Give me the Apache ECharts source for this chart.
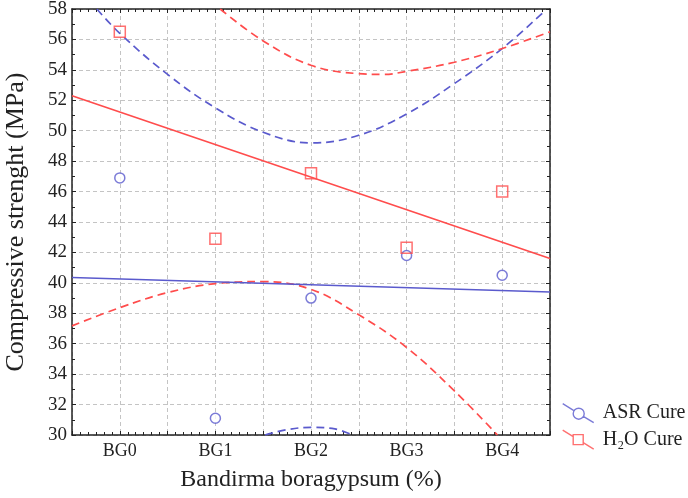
<!DOCTYPE html>
<html>
<head>
<meta charset="utf-8">
<script src="https://cdn.jsdelivr.net/npm/echarts@6/dist/echarts.min.js"></script>
<style>
html,body{margin:0;padding:0;background:#fff;}
#chart{width:688px;height:498px;}
</style>
</head>
<body>
<div id="chart"></div>
<script>
// ---- data ----
var categories = ['BG0', 'BG1', 'BG2', 'BG3', 'BG4'];
var categoryPos = [0, 1, 2, 3, 4];
var asrValues = [46.9, 31.1, 39.0, 41.8, 40.5];
var h2oValues = [56.5, 42.9, 47.2, 42.3, 46.0];

var fitX = [-0.5, 4.5];
var asrFitY = [40.35, 39.4];
var h2oFitY = [52.3, 41.6];

var asrUpperX = [-0.24, 0, 0.5, 1, 1.5, 2, 2.5, 3, 3.5, 4, 4.45];
var asrUpperY = [58, 56.4, 53.7, 51.5, 49.9, 49.2, 49.7, 51.1, 53.1, 55.4, 57.9];
var asrLowerX = [1.52, 1.75, 2, 2.25, 2.43];
var asrLowerY = [30.0, 30.35, 30.5, 30.4, 30.0];

var h2oUpperX = [1.05, 1.5, 2, 2.5, 2.75, 3, 3.5, 4, 4.5];
var h2oUpperY = [58, 55.9, 54.3, 53.75, 53.7, 53.9, 54.5, 55.4, 56.5];
var h2oLowerX = [-0.5, 0, 0.5, 1, 1.5, 2, 2.5, 3, 3.5, 3.95];
var h2oLowerY = [37.17, 38.37, 39.36, 39.95, 40.08, 39.57, 37.9, 35.75, 32.9, 30.0];

var yTicks = [30, 32, 34, 36, 38, 40, 42, 44, 46, 48, 50, 52, 54, 56, 58];

// ---- helpers ----
function zip(xs, ys) { return xs.map(function (x, i) { return [x, ys[i]]; }); }

var BLUE = '#5a5acd';
var RED = '#ff4c4c';
var FONT = 'Liberation Serif';
var DASH = [8, 5];

var chart = echarts.init(document.getElementById('chart'));

var gridLine = { show: true, lineStyle: { color: '#c4c4c4', type: [4, 3], width: 1 } };
var axisLine = { show: true, onZero: false, lineStyle: { color: '#222', width: 1.5 } };

var option = {
  animation: false,
  backgroundColor: '#fff',
  grid: { left: 72, right: 138, top: 9, bottom: 63, containLabel: false, outerBoundsMode: 'none' },
  xAxis: [{
    type: 'value',
    min: -0.5, max: 4.5, interval: 0.5,
    axisLine: axisLine,
    axisTick: { show: true, inside: true, length: 4, lineStyle: { color: '#222' } },
    minorTick: { show: true, splitNumber: 6, length: 3, lineStyle: { color: '#222' } },
    splitLine: gridLine,
    axisLabel: {
      color: '#222', fontFamily: FONT, fontSize: 18, margin: 7,
      formatter: function (v) {
        var i = categoryPos.indexOf(Math.round(v * 100) / 100);
        return i >= 0 ? categories[i] : '';
      }
    },
    name: 'Bandirma boragypsum (%)',
    nameLocation: 'middle', nameGap: 33,
    nameTextStyle: { color: '#222', fontFamily: FONT, fontSize: 24 }
  }, {
    type: 'value', position: 'top',
    min: -0.5, max: 4.5, interval: 0.5,
    axisLine: axisLine,
    axisTick: { show: true, inside: true, length: 4, lineStyle: { color: '#222' } },
    minorTick: { show: true, splitNumber: 6, length: 3, lineStyle: { color: '#222' } },
    splitLine: { show: false }, axisLabel: { show: false }
  }],
  yAxis: [{
    type: 'value',
    min: 30, max: 58, interval: 2,
    axisLine: axisLine,
    axisTick: { show: true, inside: true, length: 4, lineStyle: { color: '#222' } },
    minorTick: { show: true, splitNumber: 2, length: 3, lineStyle: { color: '#222' } },
    splitLine: gridLine,
    axisLabel: {
      color: '#222', fontFamily: FONT, fontSize: 19, margin: 5,
      formatter: function (v) { return yTicks.indexOf(v) >= 0 ? String(v) : ''; }
    },
    name: 'Compressive strenght (MPa)',
    nameLocation: 'middle', nameGap: 43, nameRotate: 90,
    nameTextStyle: { color: '#222', fontFamily: FONT, fontSize: 26 }
  }, {
    type: 'value', position: 'right',
    min: 30, max: 58, interval: 2,
    axisLine: axisLine,
    axisTick: { show: true, inside: true, length: 4, lineStyle: { color: '#222' } },
    minorTick: { show: true, splitNumber: 2, length: 3, lineStyle: { color: '#222' } },
    splitLine: { show: false }, axisLabel: { show: false }
  }],
  legend: {
    orient: 'vertical',
    left: 562, top: 403, padding: 0,
    itemWidth: 31, itemHeight: 19, itemGap: 6,
    textStyle: { color: '#222', fontFamily: FONT, fontSize: 20, padding: [0, 0, 0, 4] },
    data: [{
      name: 'ASR Cure',
      icon: 'path://M0,0 L10.82,6.63 M20.18,12.37 L31,19 M21.5,10 A5.5,5.5 0 1,1 10.5,10 A5.5,5.5 0 1,1 21.5,10 Z',
      itemStyle: { color: 'rgba(0,0,0,0)', borderColor: BLUE, borderWidth: 1.4 }
    }, {
      name: 'H\u2082O Cure',
      icon: 'path://M0,0 L10.5,6.44 M20.5,12.56 L31,19 M10.5,4.5 L20.5,4.5 L20.5,14.5 L10.5,14.5 Z',
      itemStyle: { color: 'rgba(0,0,0,0)', borderColor: RED, borderWidth: 1.4 }
    }]
  },
  series: [
    {
      name: 'ASR upper', type: 'line', smooth: 0.4, symbol: 'none', silent: true,
      lineStyle: { color: BLUE, width: 1.7, type: DASH },
      data: zip(asrUpperX, asrUpperY), z: 2
    },
    {
      name: 'ASR lower', type: 'line', smooth: 0.4, symbol: 'none', silent: true,
      lineStyle: { color: BLUE, width: 1.7, type: DASH },
      data: zip(asrLowerX, asrLowerY), z: 2
    },
    {
      name: 'H2O upper', type: 'line', smooth: 0.4, symbol: 'none', silent: true,
      lineStyle: { color: RED, width: 1.7, type: DASH },
      data: zip(h2oUpperX, h2oUpperY), z: 2
    },
    {
      name: 'H2O lower', type: 'line', smooth: 0.4, symbol: 'none', silent: true,
      lineStyle: { color: RED, width: 1.7, type: DASH },
      data: zip(h2oLowerX, h2oLowerY), z: 2
    },
    {
      name: 'ASR fit', type: 'line', symbol: 'none', silent: true,
      lineStyle: { color: BLUE, width: 1.6 },
      data: zip(fitX, asrFitY), z: 3
    },
    {
      name: 'H2O fit', type: 'line', symbol: 'none', silent: true,
      lineStyle: { color: RED, width: 1.6 },
      data: zip(fitX, h2oFitY), z: 3
    },
    {
      name: 'ASR Cure', type: 'scatter', symbol: 'circle', symbolSize: 10,
      itemStyle: { color: '#fff', borderColor: BLUE, borderWidth: 1.5 },
      data: zip(categoryPos, asrValues), z: 4
    },
    {
      name: 'H\u2082O Cure', type: 'scatter', symbol: 'rect', symbolSize: 11,
      itemStyle: { color: 'rgba(255,255,255,0)', borderColor: RED, borderWidth: 1.5 },
      data: zip(categoryPos, h2oValues), z: 4
    }
  ]
};
chart.setOption(option);
</script>
</body>
</html>
